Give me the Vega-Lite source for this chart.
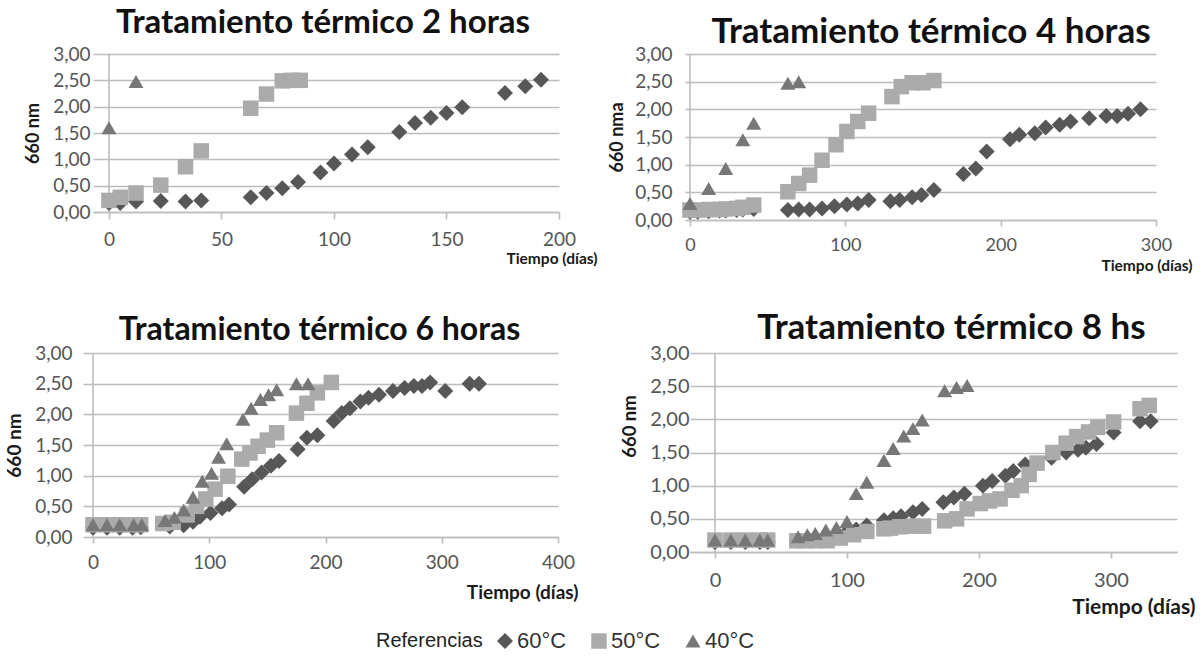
{
 "$schema": "https://vega.github.io/schema/vega-lite/v6.json",
 "autosize": {"type": "none"},
 "padding": {"left": 93, "top": 54, "right": 1111, "bottom": 604},
 "background": "white",
 "datasets": {
  "h2": [
   {"d":0,"v":0.17,"t":"60°C"},{"d":5,"v":0.17,"t":"60°C"},{"d":12,"v":0.2,"t":"60°C"},{"d":23,"v":0.21,"t":"60°C"},{"d":34,"v":0.2,"t":"60°C"},{"d":41,"v":0.22,"t":"60°C"},{"d":63,"v":0.28,"t":"60°C"},{"d":70,"v":0.36,"t":"60°C"},{"d":77,"v":0.45,"t":"60°C"},{"d":84,"v":0.57,"t":"60°C"},{"d":94,"v":0.75,"t":"60°C"},{"d":100,"v":0.92,"t":"60°C"},{"d":108,"v":1.09,"t":"60°C"},{"d":115,"v":1.23,"t":"60°C"},{"d":129,"v":1.52,"t":"60°C"},{"d":136,"v":1.69,"t":"60°C"},{"d":143,"v":1.79,"t":"60°C"},{"d":150,"v":1.88,"t":"60°C"},{"d":157,"v":1.99,"t":"60°C"},{"d":176,"v":2.26,"t":"60°C"},{"d":185,"v":2.39,"t":"60°C"},{"d":192,"v":2.51,"t":"60°C"},
   {"d":0,"v":0.22,"t":"50°C"},{"d":5,"v":0.28,"t":"50°C"},{"d":12,"v":0.36,"t":"50°C"},{"d":23,"v":0.51,"t":"50°C"},{"d":34,"v":0.86,"t":"50°C"},{"d":41,"v":1.16,"t":"50°C"},{"d":63,"v":1.97,"t":"50°C"},{"d":70,"v":2.24,"t":"50°C"},{"d":77,"v":2.49,"t":"50°C"},{"d":81,"v":2.5,"t":"50°C"},{"d":85,"v":2.5,"t":"50°C"},
   {"d":0,"v":1.6,"t":"40°C"},{"d":12,"v":2.48,"t":"40°C"}
  ],
  "h4": [
   {"d":0,"v":0.15,"t":"60°C"},{"d":5,"v":0.15,"t":"60°C"},{"d":12,"v":0.16,"t":"60°C"},{"d":19,"v":0.17,"t":"60°C"},{"d":23,"v":0.17,"t":"60°C"},{"d":30,"v":0.18,"t":"60°C"},{"d":34,"v":0.19,"t":"60°C"},{"d":41,"v":0.2,"t":"60°C"},{"d":63,"v":0.18,"t":"60°C"},{"d":70,"v":0.19,"t":"60°C"},{"d":77,"v":0.19,"t":"60°C"},{"d":85,"v":0.21,"t":"60°C"},{"d":93,"v":0.25,"t":"60°C"},{"d":101,"v":0.28,"t":"60°C"},{"d":108,"v":0.3,"t":"60°C"},{"d":115,"v":0.36,"t":"60°C"},{"d":129,"v":0.34,"t":"60°C"},{"d":135,"v":0.36,"t":"60°C"},{"d":143,"v":0.41,"t":"60°C"},{"d":149,"v":0.45,"t":"60°C"},{"d":157,"v":0.54,"t":"60°C"},{"d":176,"v":0.83,"t":"60°C"},{"d":184,"v":0.93,"t":"60°C"},{"d":191,"v":1.24,"t":"60°C"},{"d":206,"v":1.46,"t":"60°C"},{"d":212,"v":1.54,"t":"60°C"},{"d":222,"v":1.57,"t":"60°C"},{"d":229,"v":1.67,"t":"60°C"},{"d":238,"v":1.72,"t":"60°C"},{"d":245,"v":1.78,"t":"60°C"},{"d":257,"v":1.84,"t":"60°C"},{"d":268,"v":1.88,"t":"60°C"},{"d":275,"v":1.88,"t":"60°C"},{"d":282,"v":1.92,"t":"60°C"},{"d":290,"v":2.0,"t":"60°C"},
   {"d":0,"v":0.18,"t":"50°C"},{"d":5,"v":0.18,"t":"50°C"},{"d":12,"v":0.19,"t":"50°C"},{"d":19,"v":0.19,"t":"50°C"},{"d":23,"v":0.2,"t":"50°C"},{"d":30,"v":0.21,"t":"50°C"},{"d":34,"v":0.23,"t":"50°C"},{"d":41,"v":0.27,"t":"50°C"},{"d":63,"v":0.51,"t":"50°C"},{"d":70,"v":0.66,"t":"50°C"},{"d":77,"v":0.81,"t":"50°C"},{"d":85,"v":1.08,"t":"50°C"},{"d":94,"v":1.36,"t":"50°C"},{"d":101,"v":1.6,"t":"50°C"},{"d":108,"v":1.78,"t":"50°C"},{"d":115,"v":1.93,"t":"50°C"},{"d":130,"v":2.23,"t":"50°C"},{"d":136,"v":2.41,"t":"50°C"},{"d":143,"v":2.48,"t":"50°C"},{"d":150,"v":2.48,"t":"50°C"},{"d":157,"v":2.52,"t":"50°C"},
   {"d":0,"v":0.3,"t":"40°C"},{"d":12,"v":0.57,"t":"40°C"},{"d":23,"v":0.93,"t":"40°C"},{"d":34,"v":1.45,"t":"40°C"},{"d":41,"v":1.75,"t":"40°C"},{"d":63,"v":2.47,"t":"40°C"},{"d":70,"v":2.5,"t":"40°C"}
  ],
  "h6": [
   {"d":0,"v":0.15,"t":"60°C"},{"d":12,"v":0.15,"t":"60°C"},{"d":23,"v":0.15,"t":"60°C"},{"d":34,"v":0.15,"t":"60°C"},{"d":41,"v":0.16,"t":"60°C"},{"d":66,"v":0.17,"t":"60°C"},{"d":78,"v":0.19,"t":"60°C"},{"d":86,"v":0.25,"t":"60°C"},{"d":92,"v":0.33,"t":"60°C"},{"d":101,"v":0.39,"t":"60°C"},{"d":111,"v":0.47,"t":"60°C"},{"d":117,"v":0.53,"t":"60°C"},{"d":130,"v":0.82,"t":"60°C"},{"d":137,"v":0.94,"t":"60°C"},{"d":145,"v":1.05,"t":"60°C"},{"d":153,"v":1.16,"t":"60°C"},{"d":160,"v":1.24,"t":"60°C"},{"d":176,"v":1.43,"t":"60°C"},{"d":184,"v":1.62,"t":"60°C"},{"d":193,"v":1.66,"t":"60°C"},{"d":207,"v":1.89,"t":"60°C"},{"d":214,"v":2.02,"t":"60°C"},{"d":221,"v":2.1,"t":"60°C"},{"d":230,"v":2.21,"t":"60°C"},{"d":237,"v":2.27,"t":"60°C"},{"d":246,"v":2.32,"t":"60°C"},{"d":258,"v":2.38,"t":"60°C"},{"d":268,"v":2.43,"t":"60°C"},{"d":276,"v":2.46,"t":"60°C"},{"d":283,"v":2.46,"t":"60°C"},{"d":290,"v":2.52,"t":"60°C"},{"d":303,"v":2.38,"t":"60°C"},{"d":324,"v":2.5,"t":"60°C"},{"d":332,"v":2.5,"t":"60°C"},
   {"d":0,"v":0.2,"t":"50°C"},{"d":12,"v":0.2,"t":"50°C"},{"d":23,"v":0.2,"t":"50°C"},{"d":34,"v":0.2,"t":"50°C"},{"d":41,"v":0.2,"t":"50°C"},{"d":60,"v":0.22,"t":"50°C"},{"d":69,"v":0.24,"t":"50°C"},{"d":81,"v":0.36,"t":"50°C"},{"d":89,"v":0.5,"t":"50°C"},{"d":97,"v":0.62,"t":"50°C"},{"d":105,"v":0.78,"t":"50°C"},{"d":116,"v":0.99,"t":"50°C"},{"d":128,"v":1.27,"t":"50°C"},{"d":135,"v":1.37,"t":"50°C"},{"d":142,"v":1.48,"t":"50°C"},{"d":150,"v":1.58,"t":"50°C"},{"d":158,"v":1.7,"t":"50°C"},{"d":175,"v":2.02,"t":"50°C"},{"d":184,"v":2.18,"t":"50°C"},{"d":193,"v":2.35,"t":"50°C"},{"d":205,"v":2.52,"t":"50°C"},
   {"d":0,"v":0.2,"t":"40°C"},{"d":12,"v":0.2,"t":"40°C"},{"d":23,"v":0.2,"t":"40°C"},{"d":35,"v":0.2,"t":"40°C"},{"d":42,"v":0.2,"t":"40°C"},{"d":62,"v":0.27,"t":"40°C"},{"d":70,"v":0.32,"t":"40°C"},{"d":78,"v":0.44,"t":"40°C"},{"d":86,"v":0.65,"t":"40°C"},{"d":94,"v":0.91,"t":"40°C"},{"d":102,"v":1.04,"t":"40°C"},{"d":108,"v":1.3,"t":"40°C"},{"d":115,"v":1.52,"t":"40°C"},{"d":129,"v":1.92,"t":"40°C"},{"d":136,"v":2.1,"t":"40°C"},{"d":144,"v":2.24,"t":"40°C"},{"d":151,"v":2.32,"t":"40°C"},{"d":158,"v":2.4,"t":"40°C"},{"d":175,"v":2.5,"t":"40°C"},{"d":185,"v":2.5,"t":"40°C"}
  ],
  "h8": [
   {"d":0,"v":0.15,"t":"60°C"},{"d":12,"v":0.15,"t":"60°C"},{"d":23,"v":0.15,"t":"60°C"},{"d":34,"v":0.15,"t":"60°C"},{"d":40,"v":0.15,"t":"60°C"},{"d":62,"v":0.17,"t":"60°C"},{"d":69,"v":0.18,"t":"60°C"},{"d":76,"v":0.2,"t":"60°C"},{"d":84,"v":0.22,"t":"60°C"},{"d":93,"v":0.26,"t":"60°C"},{"d":100,"v":0.3,"t":"60°C"},{"d":107,"v":0.34,"t":"60°C"},{"d":115,"v":0.4,"t":"60°C"},{"d":128,"v":0.48,"t":"60°C"},{"d":135,"v":0.51,"t":"60°C"},{"d":141,"v":0.54,"t":"60°C"},{"d":150,"v":0.6,"t":"60°C"},{"d":157,"v":0.65,"t":"60°C"},{"d":173,"v":0.75,"t":"60°C"},{"d":181,"v":0.82,"t":"60°C"},{"d":189,"v":0.88,"t":"60°C"},{"d":203,"v":1.0,"t":"60°C"},{"d":210,"v":1.07,"t":"60°C"},{"d":220,"v":1.15,"t":"60°C"},{"d":226,"v":1.22,"t":"60°C"},{"d":235,"v":1.32,"t":"60°C"},{"d":255,"v":1.42,"t":"60°C"},{"d":266,"v":1.5,"t":"60°C"},{"d":275,"v":1.54,"t":"60°C"},{"d":281,"v":1.57,"t":"60°C"},{"d":289,"v":1.63,"t":"60°C"},{"d":302,"v":1.8,"t":"60°C"},{"d":322,"v":1.97,"t":"60°C"},{"d":330,"v":1.97,"t":"60°C"},
   {"d":0,"v":0.18,"t":"50°C"},{"d":12,"v":0.18,"t":"50°C"},{"d":23,"v":0.18,"t":"50°C"},{"d":34,"v":0.18,"t":"50°C"},{"d":40,"v":0.18,"t":"50°C"},{"d":62,"v":0.17,"t":"50°C"},{"d":69,"v":0.17,"t":"50°C"},{"d":76,"v":0.17,"t":"50°C"},{"d":85,"v":0.17,"t":"50°C"},{"d":95,"v":0.21,"t":"50°C"},{"d":105,"v":0.26,"t":"50°C"},{"d":115,"v":0.31,"t":"50°C"},{"d":128,"v":0.35,"t":"50°C"},{"d":133,"v":0.36,"t":"50°C"},{"d":140,"v":0.38,"t":"50°C"},{"d":150,"v":0.39,"t":"50°C"},{"d":158,"v":0.39,"t":"50°C"},{"d":174,"v":0.47,"t":"50°C"},{"d":183,"v":0.5,"t":"50°C"},{"d":191,"v":0.65,"t":"50°C"},{"d":201,"v":0.73,"t":"50°C"},{"d":208,"v":0.77,"t":"50°C"},{"d":216,"v":0.8,"t":"50°C"},{"d":225,"v":0.93,"t":"50°C"},{"d":232,"v":1.0,"t":"50°C"},{"d":238,"v":1.17,"t":"50°C"},{"d":244,"v":1.34,"t":"50°C"},{"d":256,"v":1.5,"t":"50°C"},{"d":266,"v":1.64,"t":"50°C"},{"d":274,"v":1.74,"t":"50°C"},{"d":283,"v":1.81,"t":"50°C"},{"d":290,"v":1.88,"t":"50°C"},{"d":302,"v":1.96,"t":"50°C"},{"d":322,"v":2.16,"t":"50°C"},{"d":329,"v":2.21,"t":"50°C"},
   {"d":0,"v":0.18,"t":"40°C"},{"d":12,"v":0.18,"t":"40°C"},{"d":23,"v":0.18,"t":"40°C"},{"d":34,"v":0.18,"t":"40°C"},{"d":40,"v":0.18,"t":"40°C"},{"d":63,"v":0.23,"t":"40°C"},{"d":70,"v":0.26,"t":"40°C"},{"d":76,"v":0.28,"t":"40°C"},{"d":84,"v":0.33,"t":"40°C"},{"d":92,"v":0.37,"t":"40°C"},{"d":100,"v":0.46,"t":"40°C"},{"d":107,"v":0.88,"t":"40°C"},{"d":115,"v":1.05,"t":"40°C"},{"d":128,"v":1.38,"t":"40°C"},{"d":135,"v":1.56,"t":"40°C"},{"d":143,"v":1.75,"t":"40°C"},{"d":150,"v":1.86,"t":"40°C"},{"d":157,"v":1.99,"t":"40°C"},{"d":174,"v":2.43,"t":"40°C"},{"d":183,"v":2.48,"t":"40°C"},{"d":191,"v":2.51,"t":"40°C"}
  ]
 },
 "columns": 2,
 "spacing": {"row": 133, "column": 131},
 "bounds": "flush",
 "concat": [
  {
   "width": 466, "height": 158,
   "title": {"text": "Tratamiento térmico 2 horas", "fontSize": 33, "offset": 5, "dx": -3},
   "layer": [
    {"data": {"values": [{}]}, "mark": {"type": "rule", "color": "#bdbdbd", "strokeWidth": 1.6}, "encoding": {"x": {"datum": 0}}},
    {"data": {"name": "h2"}, "mark": {"type": "point", "filled": true, "opacity": 1, "strokeWidth": 0},
     "encoding": {
      "x": {"field": "d", "type": "quantitative", "scale": {"domain": [-7.1, 200], "nice": false, "zero": false},
            "axis": {"values": [0, 50, 100, 150, 200], "format": "d", "tickSize": 7, "labelPadding": 11, "labelFontSize": 19, "title": "Tiempo (días)", "titleFontSize": 15.5, "titleX": 504, "titleY": 46, "titleAlign": "right", "titleBaseline": "middle"}},
      "y": {"field": "v", "type": "quantitative", "scale": {"domain": [0, 3], "nice": false},
            "axis": {"values": [0, 0.5, 1, 1.5, 2, 2.5, 3], "labelExpr": "replace(format(datum.value, '.2f'), '.', ',')", "title": "660 nm", "tickSize": 0, "labelPadding": 3, "labelFontSize": 19, "titleFontSize": 18, "titlePadding": 10}},
      "color": {"field": "t", "type": "nominal", "title": "Referencias", "scale": {"domain": ["60°C", "50°C", "40°C"], "range": ["#575757", "#ababab", "#777777"]}},
      "shape": {"field": "t", "type": "nominal", "title": "Referencias", "scale": {"domain": ["60°C", "50°C", "40°C"], "range": ["diamond", "square", "triangle-up"]}},
      "size": {"field": "t", "type": "nominal", "legend": null, "scale": {"domain": ["60°C", "50°C", "40°C"], "range": [256, 225, 300]}}
     }}
   ]
  },
  {
   "width": 466, "height": 166,
   "title": {"text": "Tratamiento térmico 4 horas", "fontSize": 35, "offset": -5, "dx": 8},
   "layer": [
    {"data": {"values": [{}]}, "mark": {"type": "rule", "color": "#bdbdbd", "strokeWidth": 1.6}, "encoding": {"x": {"datum": 0}}},
    {"data": {"name": "h4"}, "mark": {"type": "point", "filled": true, "opacity": 1, "strokeWidth": 0},
     "encoding": {
      "x": {"field": "d", "type": "quantitative", "scale": {"domain": [0, 300], "nice": false, "zero": false},
            "axis": {"values": [0, 100, 200, 300], "format": "d", "tickSize": 6, "labelPadding": 10, "labelFontSize": 18, "title": "Tiempo (días)", "titleFontSize": 15.5, "titleX": 502, "titleY": 45, "titleAlign": "right", "titleBaseline": "middle"}},
      "y": {"field": "v", "type": "quantitative", "scale": {"domain": [0, 3], "nice": false},
            "axis": {"values": [0, 0.5, 1, 1.5, 2, 2.5, 3], "labelExpr": "replace(format(datum.value, '.2f'), '.', ',')", "title": "660 nma", "tickSize": 5, "labelPadding": 13, "labelFontSize": 19, "titleFontSize": 18, "titlePadding": 8}},
      "color": {"field": "t", "type": "nominal", "title": "Referencias", "scale": {"domain": ["60°C", "50°C", "40°C"], "range": ["#575757", "#ababab", "#777777"]}},
      "shape": {"field": "t", "type": "nominal", "title": "Referencias", "scale": {"domain": ["60°C", "50°C", "40°C"], "range": ["diamond", "square", "triangle-up"]}},
      "size": {"field": "t", "type": "nominal", "legend": null, "scale": {"domain": ["60°C", "50°C", "40°C"], "range": [256, 225, 300]}}
     }}
   ]
  },
  {
   "width": 465, "height": 184,
   "title": {"text": "Tratamiento térmico 6 horas", "fontSize": 32, "offset": -3, "dx": -6},
   "layer": [
    {"data": {"values": [{}]}, "mark": {"type": "rule", "color": "#bdbdbd", "strokeWidth": 1.6}, "encoding": {"x": {"datum": 0}}},
    {"data": {"name": "h6"}, "mark": {"type": "point", "filled": true, "opacity": 1, "strokeWidth": 0},
     "encoding": {
      "x": {"field": "d", "type": "quantitative", "scale": {"domain": [0, 400], "nice": false, "zero": false},
            "axis": {"values": [0, 100, 200, 300, 400], "format": "d", "tickSize": 6, "labelPadding": 10, "labelFontSize": 19, "title": "Tiempo (días)", "titleFontSize": 19, "titleX": 485, "titleY": 55, "titleAlign": "right", "titleBaseline": "middle"}},
      "y": {"field": "v", "type": "quantitative", "scale": {"domain": [0, 3], "nice": false},
            "axis": {"values": [0, 0.5, 1, 1.5, 2, 2.5, 3], "labelExpr": "replace(format(datum.value, '.2f'), '.', ',')", "title": "660 nm", "tickSize": 10, "labelPadding": 11, "labelFontSize": 19, "titleFontSize": 19, "titlePadding": 10}},
      "color": {"field": "t", "type": "nominal", "title": "Referencias", "scale": {"domain": ["60°C", "50°C", "40°C"], "range": ["#575757", "#ababab", "#777777"]}},
      "shape": {"field": "t", "type": "nominal", "title": "Referencias", "scale": {"domain": ["60°C", "50°C", "40°C"], "range": ["diamond", "square", "triangle-up"]}},
      "size": {"field": "t", "type": "nominal", "legend": null, "scale": {"domain": ["60°C", "50°C", "40°C"], "range": [256, 225, 300]}}
     }}
   ]
  },
  {
   "width": 487, "height": 199,
   "title": {"text": "Tratamiento térmico 8 hs", "fontSize": 35, "offset": -3, "dx": 18},
   "layer": [
    {"data": {"values": [{}]}, "mark": {"type": "rule", "color": "#bdbdbd", "strokeWidth": 1.6}, "encoding": {"x": {"datum": 0}}},
    {"data": {"name": "h8"}, "mark": {"type": "point", "filled": true, "opacity": 1, "strokeWidth": 0},
     "encoding": {
      "x": {"field": "d", "type": "quantitative", "scale": {"domain": [-18.9, 350], "nice": false, "zero": false},
            "axis": {"values": [0, 100, 200, 300], "format": "d", "tickSize": 6, "labelPadding": 12, "labelFontSize": 20, "title": "Tiempo (días)", "titleFontSize": 21, "titleX": 505, "titleY": 55, "titleAlign": "right", "titleBaseline": "middle"}},
      "y": {"field": "v", "type": "quantitative", "scale": {"domain": [0, 3], "nice": false},
            "axis": {"values": [0, 0.5, 1, 1.5, 2, 2.5, 3], "labelExpr": "replace(format(datum.value, '.2f'), '.', ',')", "title": "660 nm", "tickSize": 0, "labelPadding": 1, "labelFontSize": 20, "titleFontSize": 18.5, "titlePadding": 10, "titleY": 73}},
      "color": {"field": "t", "type": "nominal", "title": "Referencias", "scale": {"domain": ["60°C", "50°C", "40°C"], "range": ["#575757", "#ababab", "#777777"]},
                "legend": {"orient": "none", "legendX": 283, "legendY": 576, "direction": "horizontal", "titleOrient": "left", "titleFont": "Liberation Sans", "titleFontSize": 20, "titleFontWeight": "normal", "titleColor": "#222222", "labelFont": "Liberation Sans", "labelFontSize": 22, "labelColor": "#333333", "symbolSize": 170, "columnPadding": 21, "labelOffset": 1, "titlePadding": 11}},
      "shape": {"field": "t", "type": "nominal", "title": "Referencias", "scale": {"domain": ["60°C", "50°C", "40°C"], "range": ["diamond", "square", "triangle-up"]}},
      "size": {"field": "t", "type": "nominal", "legend": null, "scale": {"domain": ["60°C", "50°C", "40°C"], "range": [256, 225, 300]}}
     }}
   ]
  }
 ],
 "config": {
  "view": {"stroke": null},
  "font": "Lato",
  "axis": {"gridColor": "#bdbdbd", "gridWidth": 1.6, "domainColor": "#bdbdbd", "domainWidth": 1.6, "tickColor": "#bdbdbd", "tickWidth": 1.6, "labelColor": "#555555", "labelFont": "Lato", "titleFont": "Lato", "titleFontWeight": "bold", "titleColor": "#1a1a1a", "labelFlush": false, "labelOverlap": false},
  "axisX": {"grid": false},
  "axisY": {"grid": true, "domain": false},
  "title": {"font": "Lato", "fontWeight": "bold", "color": "#111111", "anchor": "middle", "frame": "group", "baseline": "alphabetic"},
  "legend": {"symbolStrokeWidth": 0}
 }
}
